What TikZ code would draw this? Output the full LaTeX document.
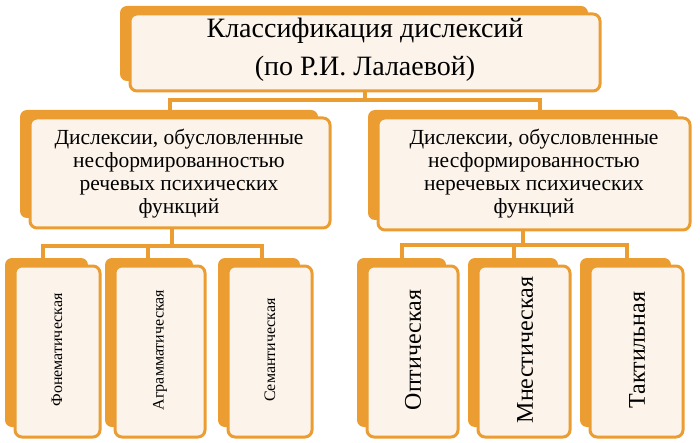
\documentclass[tikz,border=0pt]{standalone}
\usepackage{fontspec}
\setmainfont{Liberation Serif}
\definecolor{org}{HTML}{EB9D32}
\definecolor{crm}{HTML}{FCF3EA}
\tikzset{backbox/.style={fill=org,rounded corners=7pt},
frontbox/.style={draw=org,line width=3pt,fill=crm,rounded corners=7pt},
conn/.style={draw=org,line width=3.5pt},
lbl/.style={align=center,text=black,inner sep=0pt}}
\newcommand{\dbox}[5]{%
\fill[backbox] (#2-10,#3-8) rectangle (#4-12,#5-10);
\draw[frontbox] (#2,#3) rectangle (#4,#5);
\coordinate (#1) at ({(#2+#4)/2},{(#3+#5)/2});
\coordinate (#1t) at ({(#2+#4)/2},#3);
\coordinate (#1b) at ({(#2+#4)/2},#5);}
\begin{document}
\begin{tikzpicture}[x=1pt,y=-1pt]
\useasboundingbox[fill=white] (0,0) rectangle (700,443);
% connectors
\draw[conn] (365,92) -- (365,100) coordinate (j0);
\draw[conn] (170,112) -- (170,100) -- (540,100) -- (540,112);
\draw[conn] (172,228) -- (172,246) coordinate (j1);
\draw[conn] (43,260) -- (43,246) -- (262,246) -- (262,260);
\draw[conn] (148,246) -- (148,260);
\draw[conn] (523,230) -- (523,245) coordinate (j2);
\draw[conn] (402,258) -- (402,245) -- (627,245) -- (627,258);
\draw[conn] (514,245) -- (514,258);
% boxes
\dbox{top}{130}{14}{600}{91}
\dbox{ml}{30}{118}{330}{228}
\dbox{mr}{378}{118}{690}{230}
\dbox{b1}{15}{266}{100}{437}
\dbox{b2}{115}{266}{205}{437}
\dbox{b3}{228}{266}{312}{437}
\dbox{b4}{367}{266}{458}{437}
\dbox{b5}{478}{266}{570}{437}
\dbox{b6}{590}{266}{683}{437}
\node[lbl,font=\fontsize{28}{38}\selectfont] (ttop) at (365,50) {Классификация дислексий\\(по Р.И. Лалаевой)};
\node[lbl,font=\fontsize{21.5}{23}\selectfont] (tml) at (179,174) {Дислексии, обусловленные\\несформированностью\\речевых психических\\функций};
\node[lbl,font=\fontsize{21.5}{23}\selectfont] (tmr) at (534,174) {Дислексии, обусловленные\\несформированностью\\неречевых психических\\функций};
\node[lbl,rotate=90,font=\fontsize{16}{18}\selectfont] (t1) at (57,350) {Фонематическая};
\node[lbl,rotate=90,font=\fontsize{16}{18}\selectfont] (t2) at (160,350) {Аграмматическая};
\node[lbl,rotate=90,font=\fontsize{16}{18}\selectfont] (t3) at (270,350) {Семантическая};
\node[lbl,rotate=90,font=\fontsize{24}{26}\selectfont] (t4) at (413,350) {Оптическая};
\node[lbl,rotate=90,font=\fontsize{24}{26}\selectfont] (t5) at (525,350) {Мнестическая};
\node[lbl,rotate=90,font=\fontsize{24}{26}\selectfont] (t6) at (637,350) {Тактильная};
\end{tikzpicture}
\end{document}
